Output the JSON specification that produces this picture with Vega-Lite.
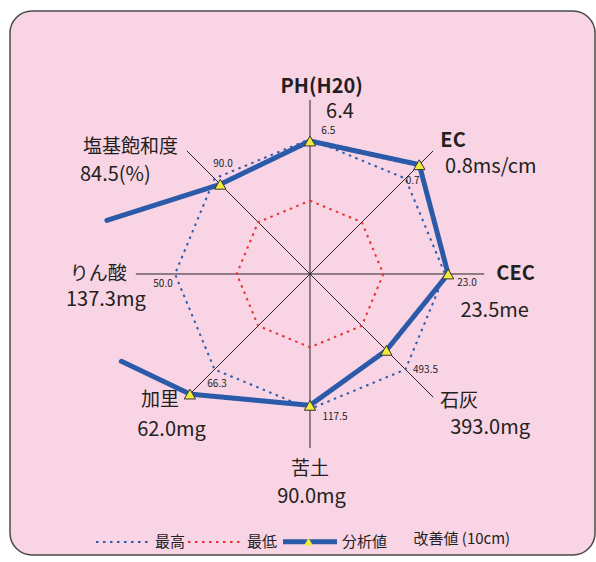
{
  "$schema": "https://vega.github.io/schema/vega-lite/v6.json",
  "width": 585,
  "height": 544,
  "autosize": "none",
  "padding": {"left": 10, "top": 11, "right": 1, "bottom": 7},
  "background": "#ffffff",
  "config": {
    "view": {"fill": "#f8d4e4", "stroke": "#4a4a4a", "strokeWidth": 1.5, "cornerRadius": 22},
    "legend": {
      "orient": "none", "legendX": 83.5, "legendY": 501, "direction": "horizontal", "columns": 3, "padding": 0,
      "labelFont": "Noto Sans CJK JP", "labelFontSize": 15, "labelColor": "#231f20", "labelOffset": 2.5, "columnPadding": -5,
      "titleOrient": "right", "titleFont": "Noto Sans CJK JP", "titleFontSize": 15, "titleFontWeight": "normal",
      "titleColor": "#231f20", "titlePadding": 26, "titleBaseline": "top", "titleAnchor": "middle"
    }
  },
  "datasets": {
    "axes": [
      {"idx": 0, "name": "PH(H20)", "value": "6.4", "max": "6.5"},
      {"idx": 1, "name": "EC", "value": "0.8ms/cm", "max": "0.7"},
      {"idx": 2, "name": "CEC", "value": "23.5me", "max": "23.0"},
      {"idx": 3, "name": "石灰", "value": "393.0mg", "max": "493.5"},
      {"idx": 4, "name": "苦土", "value": "90.0mg", "max": "117.5"},
      {"idx": 5, "name": "加里", "value": "62.0mg", "max": "66.3"},
      {"idx": 6, "name": "りん酸", "value": "137.3mg", "max": "50.0"},
      {"idx": 7, "name": "塩基飽和度", "value": "84.5(%)", "max": "90.0"}
    ],
    "points": [
      {"series": "最高", "idx": 0, "score": 100},
      {"series": "最高", "idx": 1, "score": 100},
      {"series": "最高", "idx": 2, "score": 100},
      {"series": "最高", "idx": 3, "score": 100},
      {"series": "最高", "idx": 4, "score": 100},
      {"series": "最高", "idx": 5, "score": 100},
      {"series": "最高", "idx": 6, "score": 100},
      {"series": "最高", "idx": 7, "score": 100},
      {"series": "最低", "idx": 0, "score": 54.3},
      {"series": "最低", "idx": 1, "score": 54.3},
      {"series": "最低", "idx": 2, "score": 54.3},
      {"series": "最低", "idx": 3, "score": 54.3},
      {"series": "最低", "idx": 4, "score": 54.3},
      {"series": "最低", "idx": 5, "score": 54.3},
      {"series": "最低", "idx": 6, "score": 54.3},
      {"series": "最低", "idx": 7, "score": 54.3},
      {"series": "分析値", "idx": 0, "score": 98.5},
      {"series": "分析値", "idx": 1, "score": 114.5},
      {"series": "分析値", "idx": 2, "score": 102.3},
      {"series": "分析値", "idx": 3, "score": 80},
      {"series": "分析値", "idx": 4, "score": 97.3},
      {"series": "分析値", "idx": 5, "score": 125.8},
      {"series": "分析値", "idx": 6, "score": 274.6},
      {"series": "分析値", "idx": 7, "score": 94}
    ]
  },
  "encoding": {
    "x": {"field": "px", "type": "quantitative", "scale": {"domain": [-222.22, 211.11], "nice": false, "zero": false}, "axis": null},
    "y": {"field": "py", "type": "quantitative", "scale": {"domain": [-208.15, 194.81], "nice": false, "zero": false}, "axis": null}
  },
  "layer": [
    {
      "data": {"name": "axes"},
      "transform": [
        {"calculate": "0", "as": "px"},
        {"calculate": "0", "as": "py"},
        {"calculate": "129 * sin(datum.idx * PI / 4)", "as": "ex"},
        {"calculate": "129 * cos(datum.idx * PI / 4)", "as": "ey"}
      ],
      "mark": {"type": "rule", "color": "#2a2526", "strokeWidth": 1},
      "encoding": {
        "x2": {"field": "ex"},
        "y2": {"field": "ey"}
      }
    },
    {
      "data": {"name": "points"},
      "transform": [
        {"filter": "datum.series != '分析値'"},
        {"calculate": "datum.score * sin(datum.idx * PI / 4)", "as": "px"},
        {"calculate": "datum.score * cos(datum.idx * PI / 4)", "as": "py"}
      ],
      "mark": {"type": "line", "interpolate": "linear-closed"},
      "encoding": {
        "color": {"field": "series", "type": "nominal", "scale": {"domain": ["最高", "最低", "分析値"], "range": ["#2a5cab", "#e8312f", "#2b5ba8"]}, "legend": {"title": "改善値 (10cm)", "symbolSize": 2916}},
        "strokeDash": {"field": "series", "type": "nominal", "scale": {"domain": ["最高", "最低", "分析値"], "range": [[2.5, 4.5], [2.5, 4.5], [1, 0]]}},
        "strokeWidth": {"field": "series", "type": "nominal", "scale": {"type": "ordinal", "domain": ["最高", "最低", "分析値"], "range": [2, 2, 5]}},
        "detail": {"field": "series"},
        "order": {"field": "idx"}
      }
    },
    {
      "data": {"name": "points"},
      "transform": [
        {"filter": "datum.series == '分析値' && datum.idx != 6"},
        {"calculate": "datum.score * sin(datum.idx * PI / 4)", "as": "px"},
        {"calculate": "datum.score * cos(datum.idx * PI / 4)", "as": "py"},
        {"calculate": "(datum.idx + 1) % 8", "as": "pathpos"}
      ],
      "mark": {"type": "line", "strokeCap": "round", "strokeJoin": "round"},
      "encoding": {
        "color": {"field": "series", "type": "nominal", "scale": {"domain": ["最高", "最低", "分析値"], "range": ["#2a5cab", "#e8312f", "#2b5ba8"]}, "legend": {"title": "改善値 (10cm)", "symbolSize": 2916}},
        "strokeDash": {"field": "series", "type": "nominal", "scale": {"domain": ["最高", "最低", "分析値"], "range": [[2.5, 4.5], [2.5, 4.5], [1, 0]]}},
        "strokeWidth": {"field": "series", "type": "nominal", "scale": {"type": "ordinal", "domain": ["最高", "最低", "分析値"], "range": [2, 2, 5]}},
        "order": {"field": "pathpos"}
      }
    },
    {
      "data": {"name": "points"},
      "transform": [
        {"filter": "datum.series == '分析値' && (datum.idx == 5 || datum.idx == 6)"},
        {"calculate": "datum.score * sin(datum.idx * PI / 4)", "as": "px"},
        {"calculate": "datum.score * cos(datum.idx * PI / 4)", "as": "py"}
      ],
      "mark": {"type": "line", "color": "#2b5ba8", "strokeWidth": 5, "strokeCap": "round", "strokeDash": [76, 1000]},
      "encoding": {"order": {"field": "idx", "sort": "ascending"}}
    },
    {
      "data": {"name": "points"},
      "transform": [
        {"filter": "datum.series == '分析値' && (datum.idx == 6 || datum.idx == 7)"},
        {"calculate": "datum.score * sin(datum.idx * PI / 4)", "as": "px"},
        {"calculate": "datum.score * cos(datum.idx * PI / 4)", "as": "py"}
      ],
      "mark": {"type": "line", "color": "#2b5ba8", "strokeWidth": 5, "strokeCap": "round", "strokeDash": [119, 1000]},
      "encoding": {"order": {"field": "idx", "sort": "descending"}}
    },
    {
      "data": {"name": "points"},
      "transform": [
        {"filter": "datum.series == '分析値'"},
        {"calculate": "datum.score * sin(datum.idx * PI / 4)", "as": "px"},
        {"calculate": "datum.score * cos(datum.idx * PI / 4)", "as": "py"}
      ],
      "mark": {"type": "point", "filled": true, "fill": "#f1ec3b", "stroke": "#333333", "strokeWidth": 1, "size": 128, "opacity": 1, "clip": true},
      "encoding": {
        "shape": {"field": "series", "type": "nominal", "scale": {"domain": ["分析値"], "range": ["triangle-up"]},
          "legend": {"title": null, "legendX": 291, "legendY": 523, "labelExpr": "''", "symbolType": "triangle-up", "symbolSize": 80, "symbolFillColor": "#f1ec3b", "symbolStrokeColor": "#333333", "symbolStrokeWidth": 1}}
      }
    },
    {
      "data": {"name": "axes"},
      "transform": [
        {"calculate": "129 * sin(datum.idx * PI / 4)", "as": "px"},
        {"calculate": "129 * cos(datum.idx * PI / 4)", "as": "py"}
      ],
      "mark": {"type": "text", "font": "Noto Sans CJK JP", "color": "#231f20", "align": "center", "baseline": "middle",
        "fontSize": {"expr": "datum.idx <= 2 ? 20 : 19"},
        "fontWeight": {"expr": "datum.idx <= 2 ? 'bold' : 'normal'"},
        "dx": {"expr": "[11.7, 19.9, 31.4, 25.9, 0, -26.9, -37.5, -56.4][datum.idx]"},
        "dy": {"expr": "[-13, -9.5, 0, 3.9, 20.7, 2.9, 0, -3.4][datum.idx]"}},
      "encoding": {"text": {"field": "name"}}
    },
    {
      "data": {"name": "axes"},
      "transform": [
        {"calculate": "129 * sin(datum.idx * PI / 4)", "as": "px"},
        {"calculate": "129 * cos(datum.idx * PI / 4)", "as": "py"}
      ],
      "mark": {"type": "text", "font": "Noto Sans CJK JP", "color": "#231f20", "align": "center", "baseline": "middle", "fontSize": 20,
        "dx": {"expr": "[30, 57.7, 10.5, 56.9, 1.5, -15.4, -30, -71.5][datum.idx]"},
        "dy": {"expr": "[12, 16.5, 36.8, 30.4, 48.5, 32.6, 25.7, 24.1][datum.idx]"}},
      "encoding": {"text": {"field": "value"}}
    },
    {
      "data": {"name": "axes"},
      "transform": [
        {"calculate": "100 * sin(datum.idx * PI / 4)", "as": "px"},
        {"calculate": "100 * cos(datum.idx * PI / 4)", "as": "py"}
      ],
      "mark": {"type": "text", "font": "Noto Sans CJK JP", "color": "#231f20", "align": "center", "baseline": "middle", "fontSize": 10,
        "dx": {"expr": "[18.3, 7.2, 22, 20, 25, 2.5, -12, 8.5][datum.idx]"},
        "dy": {"expr": "[-7.8, 2.5, 8.7, 0.5, 8, 14.5, 10, -14.5][datum.idx]"}},
      "encoding": {"text": {"field": "max"}}
    }
  ]
}
